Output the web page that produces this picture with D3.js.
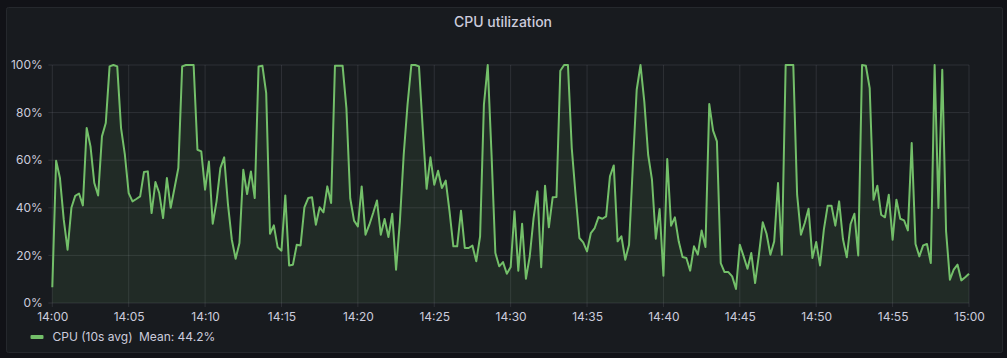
<!DOCTYPE html>
<html>
<head>
<meta charset="utf-8">
<script src="https://cdn.jsdelivr.net/npm/d3@7"></script>
<style>
  html, body { margin: 0; padding: 0; background: #111217; }
  svg { display: block; }
  text { font-family: Inter, "Noto Sans", sans-serif; }
</style>
</head>
<body>
<svg id="chart" width="1007" height="358"></svg>
<script>
// ---- data ----
const title = "CPU utilization";
const seriesName = "CPU (10s avg)";
const meanLabel = "Mean: 44.2%";
const startTime = new Date(2024, 0, 1, 14, 0, 0);
const stepSeconds = 15;
const cpuValues = [
  6.6, 59.8, 52.5, 35, 22.4, 40, 45, 46, 41, 73.5,
  65.8, 50.4, 45.2, 70, 75.6, 99.4, 100, 99.4, 73.5, 62.3,
  46.2, 42.7, 43.7, 44.8, 55, 55.3, 37.8, 50.8, 46.2, 35.7,
  52.5, 40, 48.3, 56.7, 99.4, 100, 100, 100, 64.4, 63.7,
  47.6, 59.5, 33.3, 42.7, 56.7, 61.2, 41.3, 26.6, 18.6, 25.2,
  56, 45.8, 55.3, 44.1, 99.4, 99.7, 88.2, 29.1, 32.6, 23.4,
  22, 45.2, 15.8, 16.1, 24.5, 24.2, 40.2, 44.1, 44.4, 32.9,
  40.2, 38.1, 49, 42, 99.7, 99.7, 99.7, 81.9, 44, 34.6,
  32.2, 49, 28.7, 32.9, 37.8, 43.1, 28.7, 35.3, 27.7, 37.5,
  14, 34.3, 62.3, 83.3, 100, 100, 99.4, 72.8, 48, 61.2,
  49.7, 55.6, 48.3, 51.4, 38.5, 23.8, 23.8, 38.8, 23.1, 23.1,
  24.1, 17.5, 28, 83.3, 100, 62.3, 21, 15.4, 17.2, 12.3,
  15.1, 38.5, 13.6, 33.3, 10.2, 19.6, 35.7, 46.9, 15, 49.3,
  31.8, 44.4, 44.5, 97.6, 100, 100, 65.1, 45.5, 27.3, 25.5,
  21.7, 29.4, 31.5, 36.1, 35.4, 36.4, 53.2, 57.8, 25.9, 28,
  18.2, 24.5, 58.1, 89.6, 100, 84.5, 62.3, 51.8, 27, 39.5,
  11.5, 60.5, 32.5, 36, 25.9, 19.3, 18.9, 13.6, 23.8, 20.3,
  30.5, 23.5, 83.6, 72.4, 67.9, 16.8, 13, 13, 11.2, 5.9,
  24.5, 19.6, 14.4, 21, 8.4, 20.3, 33.9, 29.1, 20.3, 25.9,
  50.4, 20.3, 100, 100, 100, 45.5, 28.7, 33.6, 39.6, 18.9,
  25.6, 15.8, 30.8, 40.9, 40.9, 32.5, 42.7, 26.9, 19.2, 33.2,
  37.5, 20, 100, 99.7, 90.3, 43.4, 49.3, 37.1, 36, 45.5,
  26.6, 43.4, 35.4, 34.7, 30.5, 67.2, 24.8, 19.6, 24.2, 24.8,
  16.8, 100, 39.9, 98, 30.1, 9.8, 14, 16.1, 9.5, 10.8,
  12.3
];
const yTicks = [0, 20, 40, 60, 80, 100];
const xTickMinutes = [0, 5, 10, 15, 20, 25, 30, 35, 40, 45, 50, 55, 60];

// ---- build ----
const data = cpuValues.map((v, i) => ({ t: new Date(startTime.getTime() + i * stepSeconds * 1000), v }));
const endTime = new Date(startTime.getTime() + 60 * 60 * 1000);

const svg = d3.select("#chart");
const W = 1007, H = 358;
const plot = { left: 52.3, right: 969, top: 65, bottom: 303 };

// panel
svg.append("rect").attr("x", 0).attr("y", 0).attr("width", W).attr("height", H).attr("fill", "#111217");
svg.append("rect").attr("x", 6.5).attr("y", 7.5).attr("width", 996).attr("height", 345)
  .attr("rx", 2).attr("fill", "#181b1f").attr("stroke", "#25282d");

svg.append("text").attr("x", 503).attr("y", 27).attr("text-anchor", "middle")
  .attr("font-size", 14).attr("font-weight", 500).attr("fill", "#ccccdc").text(title);

const x = d3.scaleTime().domain([startTime, endTime]).range([plot.left, plot.right]);
const y = d3.scaleLinear().domain([0, 100]).range([plot.bottom, plot.top]);

// grid
const gridColor = "rgba(204,204,220,0.12)";
const g = svg.append("g");
g.selectAll(".hg").data(yTicks).join("line")
  .attr("x1", plot.left).attr("x2", plot.right)
  .attr("y1", d => y(d)).attr("y2", d => y(d))
  .attr("stroke", gridColor).attr("stroke-width", 1);
const xTickTimes = xTickMinutes.map(m => new Date(startTime.getTime() + m * 60000));
g.selectAll(".vg").data(xTickTimes).join("line")
  .attr("x1", d => x(d)).attr("x2", d => x(d))
  .attr("y1", plot.top).attr("y2", plot.bottom + 4)
  .attr("stroke", gridColor).attr("stroke-width", 1);
g.selectAll(".yt").data(yTicks).join("line")
  .attr("x1", plot.left - 4).attr("x2", plot.left)
  .attr("y1", d => y(d)).attr("y2", d => y(d))
  .attr("stroke", gridColor).attr("stroke-width", 1);

// axes via d3 axes (labels only)
const yAxis = d3.axisLeft(y).tickValues(yTicks).tickFormat(d => d + "%").tickSize(0).tickPadding(0);
const ya = svg.append("g").attr("transform", `translate(${plot.left - 9.5},0)`).call(yAxis);
ya.select(".domain").remove();
ya.selectAll("text").attr("font-size", 12).attr("fill", "#ccccdc").attr("font-family", "Inter, sans-serif").attr("dy", "0.3em");

const xAxis = d3.axisBottom(x).tickValues(xTickTimes).tickFormat(d3.timeFormat("%H:%M")).tickSize(0).tickPadding(0);
const xa = svg.append("g").attr("transform", `translate(0,${plot.bottom + 9})`).call(xAxis);
xa.select(".domain").remove();
xa.selectAll("text").attr("font-size", 12).attr("fill", "#ccccdc").attr("font-family", "Inter, sans-serif").attr("dy", "0.71em");

// area + line
const green = "#73bf69";
const area = d3.area().x(d => x(d.t)).y0(y(0)).y1(d => y(d.v));
const line = d3.line().x(d => x(d.t)).y(d => y(d.v));
svg.append("path").datum(data).attr("d", area).attr("fill", green).attr("fill-opacity", 0.1);
svg.append("path").datum(data).attr("d", line).attr("fill", "none")
  .attr("stroke", green).attr("stroke-width", 2).attr("stroke-linejoin", "round");

// legend
svg.append("rect").attr("x", 30.5).attr("y", 335).attr("width", 13).attr("height", 4).attr("rx", 1).attr("fill", green);
svg.append("text").attr("x", 52.5).attr("y", 341).attr("font-size", 12).attr("fill", "#ccccdc").text(seriesName);
svg.append("text").attr("x", 139).attr("y", 341).attr("font-size", 12).attr("fill", "#ccccdc").text(meanLabel);
</script>
</body>
</html>
